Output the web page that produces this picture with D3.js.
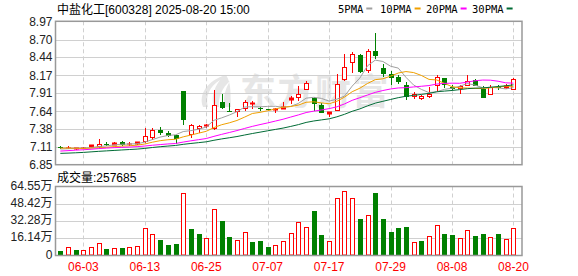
<!DOCTYPE html>
<html>
<head>
<meta charset="utf-8">
<script src="https://cdn.jsdelivr.net/npm/d3@7"></script>
<style>
  body { margin: 0; background: #fff; }
  text { font-family: "Liberation Sans", Arial, "Noto Sans CJK SC", sans-serif; }
</style>
</head>
<body>
<script>
/////////////////////////////// data
var dates = ["05-28","05-29","05-30","06-03","06-04","06-05","06-06","06-09","06-10","06-11",
  "06-12","06-13","06-16","06-17","06-18","06-19","06-20","06-23","06-24","06-25",
  "06-26","06-27","06-30","07-01","07-02","07-03","07-04","07-07","07-08","07-09",
  "07-10","07-11","07-14","07-15","07-16","07-17","07-18","07-21","07-22","07-23",
  "07-24","07-25","07-28","07-29","07-30","07-31","08-01","08-04","08-05","08-06",
  "08-07","08-08","08-11","08-12","08-13","08-14","08-15","08-18","08-19","08-20"];

var opens = [7.11,7.09,7.08,7.09,7.11,7.11,7.16,7.14,7.19,7.15,
  7.15,7.19,7.24,7.36,7.32,7.29,7.94,7.29,7.38,7.42,
  7.38,7.78,7.65,7.63,7.68,7.75,7.69,7.68,7.66,7.68,
  7.81,7.83,7.95,7.84,7.73,7.60,7.65,8.10,8.35,8.47,
  8.23,8.53,8.28,8.19,8.14,8.03,7.85,7.82,7.85,8.01,
  8.13,8.00,7.97,8.02,8.10,7.97,7.88,8.00,7.98,7.96];
var highs = [7.13,7.12,7.10,7.11,7.14,7.23,7.19,7.19,7.20,7.18,
  7.18,7.39,7.39,7.40,7.35,7.29,7.94,7.45,7.43,7.45,
  7.96,7.89,7.76,7.68,7.81,7.79,7.70,7.68,7.69,7.78,
  7.86,8.02,8.09,7.85,7.76,7.63,8.19,8.49,8.51,8.49,
  8.56,8.80,8.34,8.23,8.17,8.07,7.92,7.88,8.00,8.18,
  8.13,8.03,8.03,8.18,8.11,8.02,8.03,8.03,8.04,8.13];
var lows = [7.08,7.08,7.07,7.08,7.10,7.10,7.13,7.14,7.13,7.13,
  7.14,7.17,7.22,7.29,7.26,7.16,7.44,7.25,7.32,7.39,
  7.36,7.68,7.63,7.56,7.65,7.68,7.65,7.65,7.62,7.68,
  7.75,7.79,7.95,7.64,7.62,7.55,7.64,8.09,8.21,8.21,
  8.21,8.42,8.14,8.03,8.04,7.81,7.82,7.80,7.84,7.94,
  7.98,7.95,7.89,8.01,8.01,7.84,7.88,7.95,7.97,7.96];
var closes = [7.09,7.10,7.09,7.10,7.14,7.16,7.15,7.17,7.14,7.16,
  7.18,7.27,7.36,7.32,7.28,7.23,7.51,7.43,7.42,7.44,
  7.73,7.69,7.64,7.67,7.78,7.76,7.68,7.67,7.68,7.70,
  7.83,7.90,8.06,7.74,7.62,7.63,8.04,8.29,8.48,8.22,
  8.53,8.46,8.19,8.13,8.08,7.85,7.89,7.87,7.89,8.14,
  8.03,7.97,8.02,8.09,8.02,7.84,8.00,7.98,8.01,8.12];
// 成交量, 万手
var volumes = [4.6,8.1,5.6,5.3,8.1,12.1,6.5,7.1,7.4,8.1,
  9.0,25.7,20.1,14.9,10.2,11.1,58.2,25.1,20.4,16.4,
  43.4,32.5,17.6,14.6,22.0,13.0,13.9,8.4,9.9,13.6,
  21.1,31.3,26.6,41.8,19.5,13.6,53.6,60.1,53.6,34.4,
  38.1,58.5,34.4,22.3,26.0,26.9,13.0,13.9,18.3,28.5,
  20.4,19.5,16.4,23.9,18.6,20.4,17.4,20.4,15.5,25.7685];
// closes before the visible window (only feed the moving averages at the left edge)
var priorCloses = [6.98,6.95,6.93,6.90,6.92,6.95,6.97,6.94,6.96,6.99,
  6.97,6.95,6.98,6.99,6.96,7.01,7.04,7.06,7.07,7.05,
  7.09,7.12,7.13,7.10,7.10,7.08,7.06,7.08,7.10];

var priceTicks = [8.97, 8.70, 8.44, 8.17, 7.91, 7.64, 7.38, 7.11, 6.85];
var volTicks = [0, 16.14, 32.28, 48.42, 64.55];
var dateTicks = ["06-03","06-13","06-25","07-07","07-17","07-29","08-08","08-20"];
var maPeriods = [5, 10, 20, 30];
var maColors = ["#a0a0a0", "#f0a000", "#ff00ff", "#006b35"];

/////////////////////////////// sizes
var W = 578, H = 276;
var left = 55.5, right = 522;
var priceTop = 21.3, priceBottom = 164.7;
var volTop = 186.5, volBottom = 255.5;
var RED = "#ff0000", GREEN = "#008000";

var svg = d3.select("body").append("svg").attr("width", W).attr("height", H);

var x = d3.scaleBand().domain(dates).range([56.5, 56.5 + dates.length * 7.68]);
var y = d3.scaleLinear().domain([6.85, 8.97]).range([priceBottom, priceTop]);
var yv = d3.scaleLinear().domain([0, 64.55]).range([volBottom, volTop]);
function cx(d) { return Math.round(x(d) + x.bandwidth() / 2); }

/////////////////////////////// watermark
var wm = svg.append("g").attr("fill", "#e6e6e6");
wm.append("path")
  .attr("d", "M226,75 C208,80 198,94 203,107 L208,107 C205,96 210,86 220,80 C213,89 211,99 214,107 L219,107 C218,97 222,88 230,81 C224,91 223,100 225,107 L231,107 C230,95 232,84 226,75 Z");
wm.append("text").attr("x", 240).attr("y", 105)
  .style("font-size", "36px").style("font-weight", "bold")
  .style("letter-spacing", "1.5px")
  .style("font-family", "'Noto Sans CJK SC', sans-serif")
  .text("东方财富");

/////////////////////////////// grid
var grid = svg.append("g").attr("stroke", "#d0d0d0").attr("stroke-width", 1);
grid.selectAll(".hp").data(priceTicks.slice(1, -1)).enter().append("line")
  .attr("x1", left).attr("x2", right)
  .attr("y1", function (d) { return Math.round(y(d)) + 0.5; })
  .attr("y2", function (d) { return Math.round(y(d)) + 0.5; });
grid.selectAll(".hv").data(volTicks.slice(1, -1)).enter().append("line")
  .attr("x1", left).attr("x2", right)
  .attr("y1", function (d) { return Math.round(yv(d)) + 0.5; })
  .attr("y2", function (d) { return Math.round(yv(d)) + 0.5; });
[[priceTop, priceBottom], [volTop, volBottom]].forEach(function (p) {
  grid.selectAll(null).data(dateTicks).enter().append("line")
    .attr("stroke-dasharray", "4,3")
    .attr("x1", function (d) { return cx(d) + 0.5; })
    .attr("x2", function (d) { return cx(d) + 0.5; })
    .attr("y1", p[0]).attr("y2", p[1]);
});

/////////////////////////////// candles
var idx = d3.range(dates.length);
var candles = svg.append("g");
var cg = candles.selectAll("g").data(idx).enter().append("g");
cg.each(function (i) {
  var g = d3.select(this);
  var c = cx(dates[i]);
  var up = closes[i] >= opens[i];
  var col = up ? RED : GREEN;
  var top = Math.round(y(Math.max(opens[i], closes[i])));
  var bot = Math.round(y(Math.min(opens[i], closes[i])));
  var hi = Math.round(y(highs[i])), lo = Math.round(y(lows[i]));
  if (up) {
    if (hi < top) g.append("line").attr("x1", c + 0.5).attr("x2", c + 0.5).attr("y1", hi).attr("y2", top).attr("stroke", col);
    if (lo > bot) g.append("line").attr("x1", c + 0.5).attr("x2", c + 0.5).attr("y1", bot).attr("y2", lo).attr("stroke", col);
    if (bot - top <= 2) {
      g.append("rect").attr("x", c - 2).attr("y", top - 0.5).attr("width", 5).attr("height", Math.max(1, bot - top + 1)).attr("fill", col);
    } else {
      g.append("rect").attr("x", c - 1.5).attr("y", top + 0.5).attr("width", 4).attr("height", bot - top - 1)
        .attr("fill", "#fff").attr("stroke", col);
    }
  } else {
    g.append("line").attr("x1", c + 0.5).attr("x2", c + 0.5).attr("y1", hi).attr("y2", lo).attr("stroke", col);
    g.append("rect").attr("x", c - 2).attr("y", top).attr("width", 5).attr("height", Math.max(1, bot - top)).attr("fill", col);
  }
});

/////////////////////////////// moving averages
var allCloses = priorCloses.concat(closes);
function movingAverage(n) {
  return closes.map(function (c, i) {
    var j = i + priorCloses.length;
    return d3.mean(allCloses.slice(j - n + 1, j + 1));
  });
}
var line = d3.line()
  .x(function (d, i) { return x(dates[i]) + x.bandwidth() / 2; })
  .y(function (d) { return y(d); });
maPeriods.forEach(function (n, k) {
  svg.append("path").datum(movingAverage(n))
    .attr("d", line).attr("fill", "none")
    .attr("stroke", maColors[k]).attr("stroke-width", 1);
});

/////////////////////////////// volume
svg.append("g").selectAll("rect").data(idx).enter().append("rect")
  .each(function (i) {
    var prev = allCloses[i + priorCloses.length - 1];
    var up = closes[i] >= prev;
    var c = cx(dates[i]);
    var t = Math.round(yv(volumes[i]));
    var r = d3.select(this);
    if (up) {
      r.attr("x", c - 1.5).attr("y", t + 0.5).attr("width", 4).attr("height", volBottom - t - 1)
        .attr("fill", "#fff").attr("stroke", RED);
    } else {
      r.attr("x", c - 2).attr("y", t).attr("width", 5).attr("height", volBottom - t).attr("fill", GREEN);
    }
  });

/////////////////////////////// frames
svg.append("rect").attr("x", left).attr("y", priceTop).attr("width", right - left).attr("height", priceBottom - priceTop)
  .attr("fill", "none").attr("stroke", "#999").attr("stroke-width", 1.5);
svg.append("rect").attr("x", left).attr("y", volTop).attr("width", right - left).attr("height", volBottom - volTop)
  .attr("fill", "none").attr("stroke", "#999").attr("stroke-width", 1.5);

/////////////////////////////// axes
var ay = svg.append("g").attr("transform", "translate(" + left + ",0)")
  .call(d3.axisLeft(y).tickValues(priceTicks).tickSize(0).tickPadding(3).tickFormat(d3.format(".2f")));
var av = svg.append("g").attr("transform", "translate(" + left + ",0)")
  .call(d3.axisLeft(yv).tickValues(volTicks).tickSize(0).tickPadding(3)
    .tickFormat(function (d) { return d === 0 ? "0" : d3.format(".2f")(d) + "万"; }));
av.selectAll("text").attr("dy", "0.22em");
var ax = svg.append("g").attr("transform", "translate(0," + volBottom + ")")
  .call(d3.axisBottom(x).tickValues(dateTicks).tickSize(0).tickPadding(7));
[ay, av, ax].forEach(function (a) {
  a.select(".domain").remove();
  a.selectAll("text").style("font-size", "12px")
    .style("font-family", "'Liberation Sans', Arial, 'Noto Sans CJK SC', sans-serif");
});
ay.selectAll("text").attr("fill", "#222");
av.selectAll("text").attr("fill", "#222");
ax.selectAll("text").attr("fill", RED);

/////////////////////////////// titles & legend
svg.append("text").attr("x", 57).attr("y", 13.5).style("font-size", "12px").attr("fill", "#000")
  .text("中盐化工[600328] 2025-08-20 15:00");
svg.append("text").attr("x", 57).attr("y", 182).style("font-size", "12px").attr("fill", "#000")
  .text("成交量:" + Math.round(volumes[volumes.length - 1] * 10000));

var legendX = [338, 380, 426, 472];
var lg = svg.append("g");
maPeriods.forEach(function (n, k) {
  var t = lg.append("text").attr("x", legendX[k]).attr("y", 12.5)
    .style("font-size", "10.5px").style("font-family", "'DejaVu Sans Mono', monospace")
    .attr("fill", "#000").text(n + "PMA");
  var w = t.node().getComputedTextLength();
  lg.append("rect").attr("x", legendX[k] + w + 3).attr("y", 7.5).attr("width", 6).attr("height", 2)
    .attr("fill", maColors[k]);
});
</script>
</body>
</html>
